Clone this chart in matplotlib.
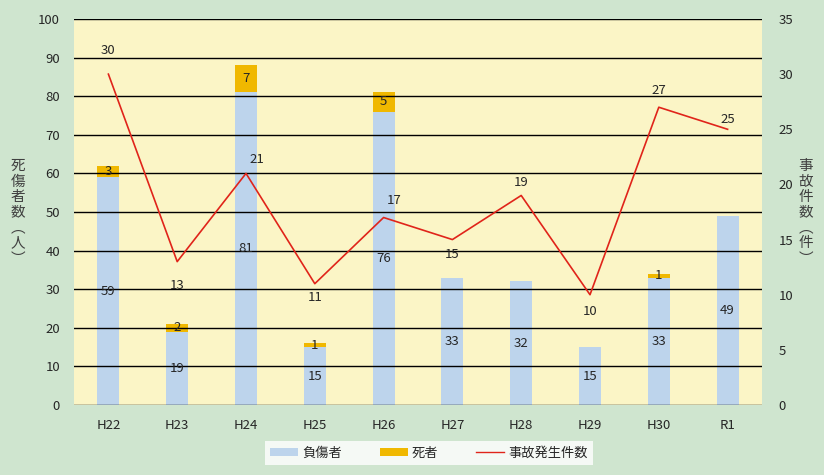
import numpy as np
import matplotlib
matplotlib.use('Agg')
import matplotlib.pyplot as plt
from matplotlib.lines import Line2D
from matplotlib.patches import Patch

plt.rcParams['font.family'] = ['Noto Sans CJK JP', 'DejaVu Sans']

years = ['H22', 'H23', 'H24', 'H25', 'H26', 'H27', 'H28', 'H29', 'H30', 'R1']
injured = [59, 19, 81, 15, 76, 33, 32, 15, 33, 49]
dead = [3, 2, 7, 1, 5, 0, 0, 0, 1, 0]
accidents = [30, 13, 21, 11, 17, 15, 19, 10, 27, 25]
# label offsets for the line values, in pixels (dx, dy up)
acc_off = [(0, 24), (0, -24), (11, 14), (0, -14), (11, 17),
           (0, -15), (0, 13), (0, -17), (0, 17), (0, 10)]
left_label = '死傷者数︵人︶'
right_label = '事故件数︵件︶'

bg = '#cfe5cf'
plot_bg = '#fbf5c6'
blue = '#bdd4ec'
gold = '#f0b800'
red = '#e0241a'
txt = '#262626'

fig = plt.figure(figsize=(8.24, 4.75), dpi=100, facecolor=bg)
ax = fig.add_axes([74 / 824, 1 - 405 / 475, 688 / 824, 386 / 475])
ax.set_facecolor(plot_bg)
x = np.arange(len(years))

ax.bar(x, injured, width=0.32, color=blue, zorder=1)
ax.bar(x, dead, width=0.32, bottom=injured, color=gold, zorder=1)
ax.set_ylim(0, 100)
ax.set_xlim(-0.5, len(years) - 0.5)
ax.set_yticks(range(0, 101, 10))
ax.yaxis.grid(True, color='black', linewidth=1.0, zorder=2)
ax.set_axisbelow(False)
for s in ax.spines.values():
    s.set_visible(False)
ax.tick_params(length=0, labelsize=9.5, colors=txt, pad=10)
ax.set_xticks(x)
ax.set_xticklabels(years)

for i in range(len(years)):
    ax.text(x[i], injured[i] / 2, str(injured[i]), ha='center', va='center',
            fontsize=9.5, color=txt, zorder=5)
    if dead[i] > 0:
        ax.text(x[i], injured[i] + dead[i] / 2, str(dead[i]), ha='center',
                va='center', fontsize=9.5, color=txt, zorder=5)

ax2 = ax.twinx()
ax2.plot(x, accidents, color=red, linewidth=1.2, zorder=3)
ax2.set_ylim(0, 35)
ax2.set_yticks(range(0, 36, 5))
for s in ax2.spines.values():
    s.set_visible(False)
ax2.tick_params(length=0, labelsize=9.5, colors=txt, pad=12)
for i in range(len(years)):
    dx, dy = acc_off[i]
    ax2.annotate(str(accidents[i]), (x[i], accidents[i]),
                 xytext=(dx * 0.72, dy * 0.72),
                 textcoords='offset points', ha='center', va='center',
                 fontsize=9.5, color=txt)

# vertical axis titles, one character per line
for xpix, label in ((18, left_label), (806, right_label)):
    for k, ch in enumerate(label):
        fig.text(xpix / 824, 1 - (166 + 15.5 * k) / 475, ch, ha='center',
                 va='center', fontsize=10.5, color='#404040')

handles = [Patch(facecolor=blue, label='負傷者'),
           Patch(facecolor=gold, label='死者'),
           Line2D([0], [0], color=red, linewidth=1.0, label='事故発生件数')]
leg = fig.legend(handles=handles, loc='center', bbox_to_anchor=(429 / 824, 1 - 453 / 475),
                 ncol=3, frameon=True, fancybox=False, edgecolor='white',
                 facecolor='white', fontsize=9.5, handlelength=2.1, handleheight=0.6,
                 columnspacing=2.9, borderpad=0.4, handletextpad=0.3)
leg.get_frame().set_linewidth(0)
for t in leg.get_texts():
    t.set_color(txt)

fig.savefig('out.png', dpi=100, facecolor=bg)
